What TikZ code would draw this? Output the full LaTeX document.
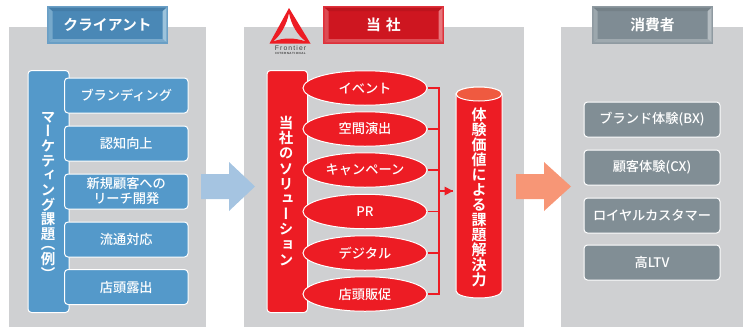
\documentclass[tikz,border=0pt]{standalone}
\usepackage{fontspec}
\setmainfont{Noto Sans CJK JP Medium}
\newfontfamily\vertjp[RawFeature={+vert}]{Noto Sans CJK JP Bold}
\newfontfamily\headjp{Noto Sans CJK JP Bold}
\newfontfamily\latinlogo{Liberation Sans}
\usetikzlibrary{shapes.geometric}
\definecolor{panelgray}{HTML}{CFD0D2}
\definecolor{cblue}{HTML}{5499CA}
\definecolor{cred}{HTML}{ED1C24}
\definecolor{cslate}{HTML}{818E95}
\definecolor{arrowblue}{HTML}{A5C4E1}
\definecolor{arroworange}{HTML}{F79676}
\definecolor{cyltop}{HTML}{EF5A40}
\definecolor{hbaseB}{HTML}{4A88B6}\definecolor{hlightB}{HTML}{9CC3DC}\definecolor{hdarkB}{HTML}{6A9FC6}
\definecolor{hbaseR}{HTML}{CE1620}\definecolor{hlightR}{HTML}{E8767C}\definecolor{hdarkR}{HTML}{E0303A}
\definecolor{hbaseS}{HTML}{7F8C94}\definecolor{hlightS}{HTML}{B4BCC1}\definecolor{hdarkS}{HTML}{8F9AA1}
\tikzset{
  panel/.style={fill=panelgray,draw=none,minimum height=300,anchor=north west,inner sep=0},
  itembox/.style={draw=white,line width=1pt,rounded corners=3.5,text=white,font=\fontsize{13.2}{15}\selectfont,align=center,minimum height=35,inner sep=0,anchor=center},
  bluebox/.style={itembox,fill=cblue,minimum width=123.5},
  slatebox/.style={itembox,fill=cslate,minimum width=136},
  redoval/.style={ellipse,draw=white,line width=1pt,fill=cred,text=white,font=\fontsize{13.2}{15}\selectfont,minimum width=124,minimum height=34.5,inner sep=0},
  sidebar/.style={draw=white,line width=1pt,rounded corners=3.5,inner sep=0},
  vtext/.style={text=white,align=center,inner sep=0},
  headtext/.style={text=white,font=\headjp\fontsize{14.8}{16}\selectfont,inner sep=0},
  bracket/.style={draw=cred,line width=1.5pt}
}
\newcommand{\bevelhead}[7]{% x1 y1 x2 y2 base light border
  \fill[#7] (#1,#2) rectangle (#3,#4);
  \fill[#5] (#1+1.5,#2+1.5) rectangle (#3-1.5,#4-1.5);
  \fill[#6!55!#5] (#1+1.5,#2+1.5) -- (#1+5.5,#2+5) -- (#1+5.5,#4-5) -- (#1+1.5,#4-1.5) -- cycle;
  \fill[#6] (#3-1.5,#2+1.5) -- (#3-5.5,#2+5) -- (#3-5.5,#4-5) -- (#3-1.5,#4-1.5) -- cycle;
  \fill[#6!60!#5] (#1+1.5,#4-1.5) -- (#1+5.5,#4-5) -- (#3-5.5,#4-5) -- (#3-1.5,#4-1.5) -- cycle;
  \fill[#5!92!black] (#1+1.5,#2+1.5) -- (#3-1.5,#2+1.5) -- (#3-5.5,#2+5) -- (#1+5.5,#2+5) -- cycle;
}
\begin{document}
\begin{tikzpicture}[x=1pt,y=-1pt]
\useasboundingbox (0,0) rectangle (744,327);
% panels
\node[panel,minimum width=197] (pl) at (9,27) {};
\node[panel,minimum width=280] (pm) at (244,27) {};
\node[panel,minimum width=182] (pr) at (561,27) {};
% headers
\bevelhead{47}{6}{168}{44}{hbaseB}{hlightB}{hdarkB}
\node[headtext] (hl) at (107.5,25) {クライアント};
\bevelhead{323}{6}{444}{44}{hbaseR}{hlightR}{hdarkR}
\node[headtext] (hm) at (383.5,25) {当\hspace{5pt}社};
\bevelhead{592}{6}{713}{44}{hbaseS}{hlightS}{hdarkS}
\node[headtext] (hr) at (652.5,25) {消費者};
% arrows
\fill[arrowblue] (201,174) -- (229,174) -- (229,162) -- (255,186.5) -- (229,211) -- (229,199) -- (201,199) -- cycle;
\fill[arroworange] (516,174) -- (544,174) -- (544,162) -- (571,186.5) -- (544,211) -- (544,199) -- (516,199) -- cycle;
% left column
\node[sidebar,fill=cblue,minimum width=41,minimum height=242,anchor=north west] (ls) at (27.5,70) {};
\node[vtext,font=\vertjp\fontsize{14.5}{14.7}\selectfont] (lst) at (48,195.5) {マ\\ー\\ケ\\テ\\ィ\\ン\\グ\\課\\題\\[-4.7pt]（\\例\\）};
\node[bluebox] (b1) at (126.25,95.5) {ブランディング};
\node[bluebox] (b2) at (126.25,143.5) {認知向上};
\node[bluebox,font=\fontsize{13.2}{15}\selectfont] (b3) at (126.25,191.5) {新規顧客への\\リーチ開発};
\node[bluebox] (b4) at (126.25,239.5) {流通対応};
\node[bluebox] (b5) at (126.25,287) {店頭露出};
% logo
\fill[cred,even odd rule] (289,8) -- (310.5,43.5) -- (269.5,43.5) -- cycle
  (289,13) .. controls (287,24) and (281,35) .. (273,41.5) .. controls (284,37.5) and (294,37.5) .. (306,41.5) .. controls (297,35) and (291,24) .. (289,13) -- cycle;
\node[inner sep=0,text=black!75,font=\latinlogo\fontsize{6.8}{7}\selectfont] (lg1) at (290.5,48) {F\,r\,o\,n\,t\,i\,e\,r};
\node[inner sep=0,text=black!75,font=\latinlogo\bfseries\fontsize{3}{3}\selectfont] (lg2) at (290.5,53.5) {I\,N\,T\,E\,R\,N\,A\,T\,I\,O\,N\,A\,L};
% middle column
\node[sidebar,fill=cred,minimum width=40.5,minimum height=242,anchor=north west] (ms) at (266.5,70) {};
\node[vtext,font=\vertjp\fontsize{14.5}{15.2}\selectfont] (mst) at (286,191) {当\\社\\の\\ソ\\リ\\ュ\\ー\\シ\\ョ\\ン};
% connectors and ovals
\coordinate (busT) at (439,88);
\coordinate (busB) at (439,294);
\coordinate (busM) at (439,191);
\node[redoval] (o1) at (365,88) {イベント};
\node[redoval] (o2) at (365,129) {空間演出};
\node[redoval] (o3) at (365,170) {キャンペーン};
\node[redoval] (o4) at (365,211.5) {PR};
\node[redoval] (o5) at (365,253) {デジタル};
\node[redoval] (o6) at (365,294) {店頭販促};
\draw[bracket] (o1.east) -- (busT) -- (busB) -- (o6.east);
\draw[bracket] (o2.east) -- (o2.east -| busT);
\draw[bracket] (o3.east) -- (o3.east -| busT);
\draw[bracket] (o4.east) -- (o4.east -| busT);
\draw[bracket] (o5.east) -- (o5.east -| busT);
% cylinder
\coordinate (cyl) at (479,197);
\fill[cred,draw=white,line width=1pt] (456,94) -- (456,291) arc[start angle=180,end angle=360,x radius=23,y radius=-7] -- (502,94) arc[start angle=0,end angle=180,x radius=23,y radius=-7] -- cycle;
\fill[cyltop,draw=white,line width=1pt] (479,94) ellipse[x radius=23,y radius=7];
\node[vtext,font=\vertjp\fontsize{15}{15}\selectfont] (ct) at (cyl) {体\\験\\価\\値\\に\\よ\\る\\課\\題\\解\\決\\力};
\draw[bracket] (busM) -- (453,191) coordinate (tipend);
\fill[cred] (453,191) -- (444.5,186.5) -- (444.5,195.5) -- cycle;
% right column
\node[slatebox] (r1) at (652,119.5) {ブランド体験(BX)};
\node[slatebox] (r2) at (652,167.5) {顧客体験(CX)};
\node[slatebox] (r3) at (652,215.5) {ロイヤルカスタマー};
\node[slatebox] (r4) at (652,262.5) {高LTV};
\end{tikzpicture}
\end{document}
